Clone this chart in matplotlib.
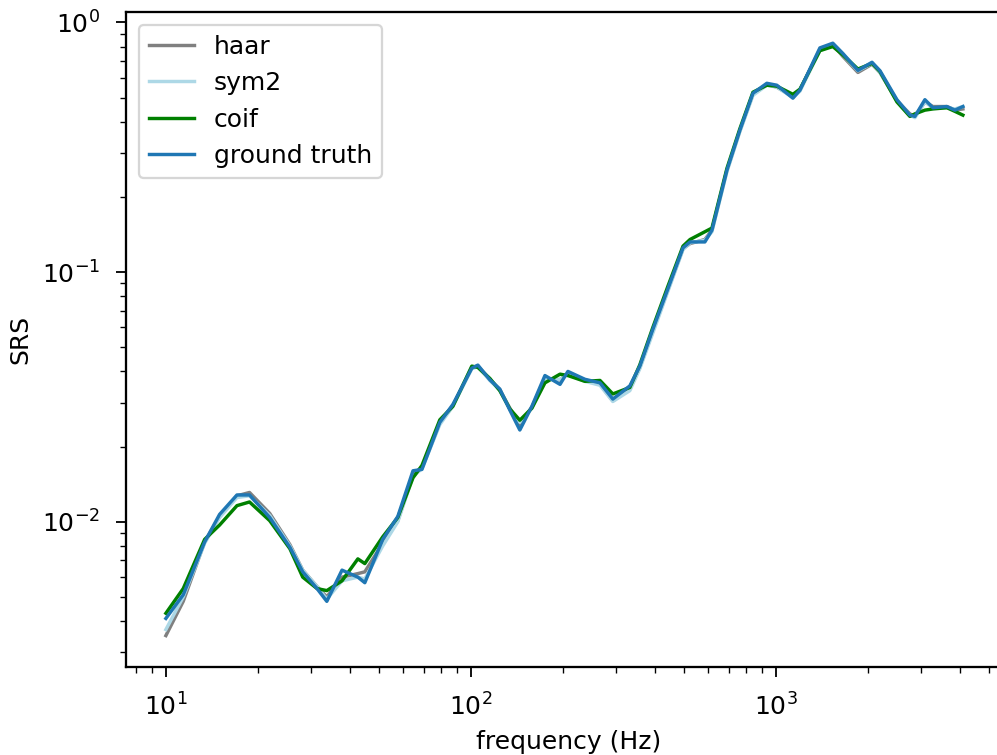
"""
    plot SRS comparison of wavelets
"""

import matplotlib
matplotlib.use('Agg')
import matplotlib.pyplot as plt

freq = [10.0, 11.4, 13.4, 15.0, 17.1, 18.8, 21.9, 25.5, 28.1, 31.3, 33.7, 37.8,
        42.6, 44.9, 51.4, 57.6, 64.6, 69.1, 79.1, 87.3, 100.7, 105.4, 115.4,
        124.4, 134.2, 144.7, 158.5, 174.9, 196, 208, 236.5, 265, 292, 332, 358,
        395, 443, 496, 523, 585, 617, 691, 762, 841, 934, 1007, 1137, 1199,
        1394, 1537, 1659, 1858, 2066, 2194, 2494, 2750, 2856, 3080, 3273, 3637,
        3864, 4103]

ground_truth = [0.0041, 0.0051, 0.0083, 0.0107, 0.0128, 0.0128, 0.0104, 0.0079,
                0.0063, 0.0054, 0.0048, 0.0064, 0.0060, 0.0057, 0.0085, 0.0105,
                0.0160, 0.0162, 0.0250, 0.0295, 0.0412, 0.0424, 0.0370, 0.0340,
                0.0280, 0.0233, 0.0290, 0.0385, 0.0355, 0.0400, 0.0372, 0.0360,
                0.0310, 0.0350, 0.0420, 0.0590, 0.0860, 0.1250, 0.1320, 0.1320,
                0.1470, 0.2560, 0.3700, 0.5200, 0.5700, 0.5600, 0.4970, 0.5350,
                0.7900, 0.8250, 0.7500, 0.6420, 0.6920, 0.6400, 0.4900, 0.4250,
                0.4200, 0.4900, 0.4550, 0.4600, 0.4450, 0.4600]

coif = [0.0043, 0.0054, 0.0085, 0.0097, 0.0116, 0.0120, 0.0101, 0.0078,
        0.0060, 0.0054, 0.0053, 0.0058, 0.0071, 0.0068, 0.0087, 0.0104,
        0.0150, 0.0168, 0.0256, 0.0290, 0.0420, 0.0415, 0.0375, 0.0335,
        0.0283, 0.0255, 0.0285, 0.0360, 0.0390, 0.0385, 0.0365, 0.0368,
        0.0325, 0.0345, 0.0425, 0.0600, 0.0880, 0.1270, 0.1350, 0.1450,
        0.1500, 0.2600, 0.3750, 0.5250, 0.5600, 0.5550, 0.5150, 0.5400,
        0.7700, 0.8000, 0.7400, 0.6500, 0.6850, 0.6350, 0.4800, 0.4200,
        0.4300, 0.4450, 0.4500, 0.4550, 0.4400, 0.4250]

haar = [0.0035, 0.0048, 0.0083, 0.0105, 0.0127, 0.0131, 0.0108, 0.0081,
        0.0064, 0.0055, 0.0050, 0.0060, 0.0062, 0.0063, 0.0082, 0.0101,
        0.0155, 0.0165, 0.0248, 0.0292, 0.0415, 0.0420, 0.0372, 0.0338,
        0.0285, 0.0245, 0.0288, 0.0375, 0.0370, 0.0392, 0.0370, 0.0355,
        0.0305, 0.0340, 0.0415, 0.0580, 0.0850, 0.1240, 0.1300, 0.1350,
        0.1470, 0.2550, 0.3680, 0.5150, 0.5650, 0.5500, 0.5050, 0.5350,
        0.7800, 0.8150, 0.7300, 0.6300, 0.6800, 0.6300, 0.4850, 0.4300,
        0.4200, 0.4800, 0.4600, 0.4600, 0.4450, 0.4500]

sym2 = [0.0037, 0.0050, 0.0082, 0.0104, 0.0125, 0.0127, 0.0106, 0.0080,
        0.0064, 0.0055, 0.0049, 0.0058, 0.0060, 0.0059, 0.0080, 0.0100,
        0.0152, 0.0163, 0.0245, 0.0290, 0.0410, 0.0418, 0.0368, 0.0336,
        0.0282, 0.0250, 0.0285, 0.0372, 0.0372, 0.0390, 0.0365, 0.0352,
        0.0303, 0.0335, 0.0410, 0.0570, 0.0840, 0.1230, 0.1310, 0.1340,
        0.1450, 0.2520, 0.3650, 0.5100, 0.5600, 0.5500, 0.5000, 0.5300,
        0.7700, 0.8100, 0.7400, 0.6400, 0.6850, 0.6300, 0.4850, 0.4250,
        0.4150, 0.4800, 0.4550, 0.4550, 0.4500, 0.4600]

plt.rcParams['font.size'] = 11
plt.rcParams['xtick.major.pad'] = 7
plt.rcParams['ytick.major.pad'] = 7
plt.rcParams['xtick.major.size'] = 4.5
plt.rcParams['ytick.major.size'] = 4.5
plt.rcParams['xtick.minor.size'] = 2.5
plt.rcParams['ytick.minor.size'] = 2.5
plt.rcParams['axes.linewidth'] = 1.0

fig = plt.figure(figsize=(997/164, 755/164), dpi=164)
ax = fig.add_axes([126/997, 88/755, 885/997, 655/755])

ax.plot(freq, haar, color='gray', label='haar')
ax.plot(freq, sym2, color='lightblue', label='sym2')
ax.plot(freq, coif, color='green', label='coif')
ax.plot(freq, ground_truth, color='tab:blue', label='ground truth')

ax.set_xscale('log')
ax.set_yscale('log')
ax.set_xlim(7.4, 5900)
ax.set_ylim(0.00262, 1.1)
ax.spines['right'].set_visible(False)
ax.set_xlabel('frequency (Hz)')
ax.set_ylabel('SRS')
ax.legend(loc='upper left', labelspacing=0.5, handlelength=1.8)

### Generate the plot
plt.savefig('out.png', dpi=164)
plt.close()
